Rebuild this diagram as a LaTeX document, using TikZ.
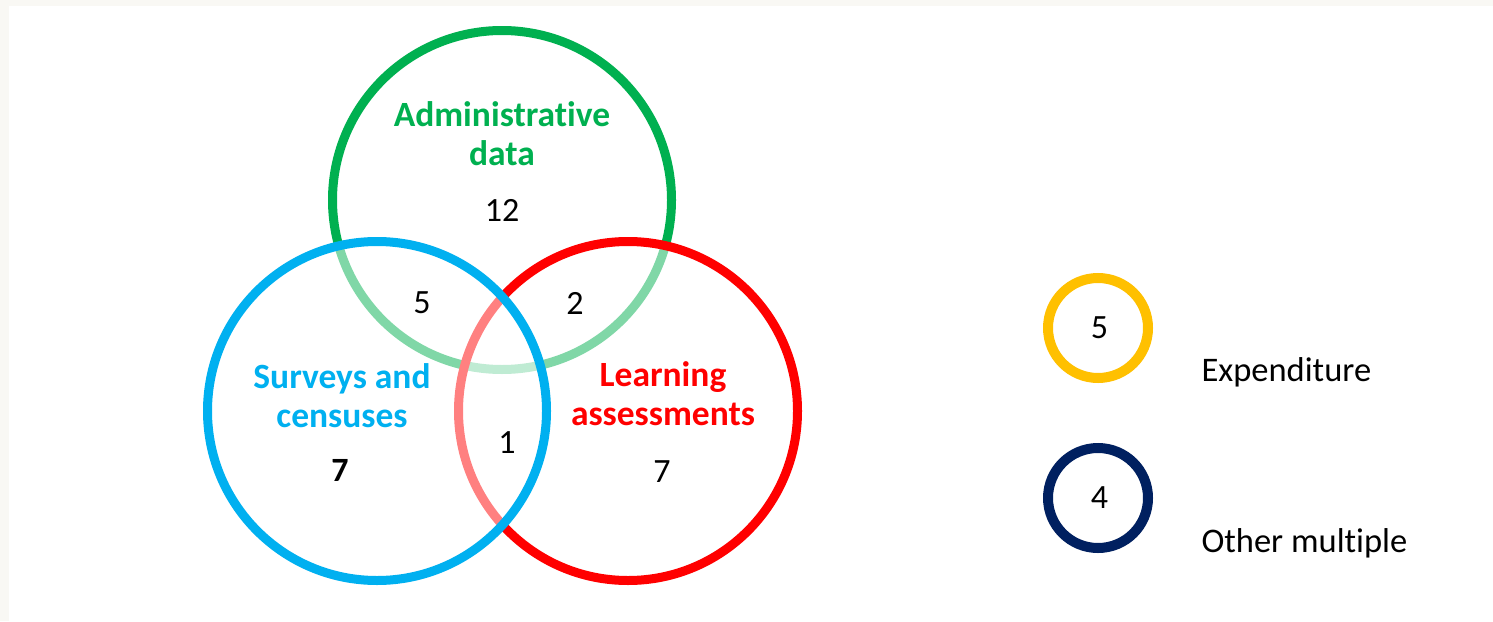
\documentclass[tikz,border=0pt]{standalone}
\usepackage{fontspec}
\setmainfont[Ligatures={NoCommon}]{Carlito}
\definecolor{cgreen}{HTML}{00B050}
\definecolor{cblue}{HTML}{00B0F0}
\definecolor{cred}{HTML}{FF0000}
\definecolor{cyellow}{HTML}{FFC000}
\definecolor{cnavy}{HTML}{002060}
\definecolor{band}{HTML}{F9F8F4}
\begin{document}
\begin{tikzpicture}[x=1pt,y=-1pt,
  venn/.style={line width=9pt, fill=white, fill opacity=0.5, draw opacity=1, text opacity=1},
  legcirc/.style={circle, line width=10pt, minimum size=100pt, inner sep=0pt, font=\fontsize{34}{40}\selectfont},
  lbl/.style={font=\fontsize{35.5}{39}\selectfont\bfseries, align=center},
  num/.style={font=\fontsize{34}{40}\selectfont},
  leg/.style={font=\fontsize{34.5}{40}\selectfont, anchor=west}]
\useasboundingbox (0,0) rectangle (1493,621);
\fill[band] (0,0) rectangle (1493,621);
\fill[white] (9,6) rectangle (1493,621);
% Venn circles
\draw[venn, draw=cgreen] (502,200) circle (169.5);
\draw[venn, draw=cred] (628,411) circle (169.5);
\draw[venn, draw=cblue] (377,411) circle (169.5);
% labels
\node[lbl, text=cgreen] (adm) at (502,134) {Administrative\\data};
\node[lbl, text=cblue] (srv) at (342,396) {Surveys and\\censuses};
\node[lbl, text=cred] (lrn) at (663,394) {Learning\\assessments};
% numbers
\node[num] (n12) at (502,210) {12};
\node[num] (n5) at (422,303) {5};
\node[num] (n2) at (575,303) {2};
\node[num, font=\fontsize{34}{40}\selectfont\bfseries] (n7a) at (340,470) {7};
\node[num] (n1) at (507,443) {1};
\node[num] (n7b) at (662,472) {7};
% legend
\node[legcirc, draw=cyellow] (ly) at (1098,328) {\hspace*{3pt}5};
\node[legcirc, draw=cnavy] (ln) at (1098,498) {\hspace*{3pt}4};
\node[leg] (lexp) at (1198,372) {Expenditure};
\node[leg] (loth) at (1198,543) {Other multiple};
\end{tikzpicture}
\end{document}
